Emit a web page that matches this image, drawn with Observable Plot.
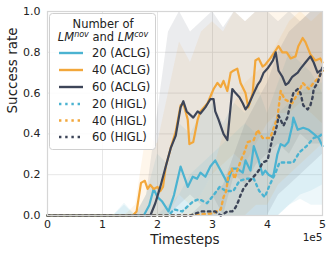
<!DOCTYPE html>
<html>
<head>
<meta charset="utf-8">
<script src="https://cdn.jsdelivr.net/npm/d3@7"></script>
<script src="https://cdn.jsdelivr.net/npm/@observablehq/plot@0.6"></script>
<style>
  body { margin: 0; background: #fff; }
  #chart { position: relative; width: 332px; height: 255px; }
  svg { font-family: "DejaVu Sans", sans-serif; }
</style>
</head>
<body>
<div id="chart"></div>
<script>
// ---- data (x in units of 1e5 timesteps) ----
const xTicks = [0, 1, 2, 3, 4, 5];
const yTicks = [0, 0.2, 0.4, 0.6, 0.8, 1.0];
const seriesNames = ["20 (ACLG)", "40 (ACLG)", "60 (ACLG)", "20 (HIGL)", "40 (HIGL)", "60 (HIGL)"];
const seriesColors = ["#4bb3d1", "#f2a73b", "#3d4558", "#4bb3d1", "#f2a73b", "#3d4558"];

const aclg20T = [0, 1.75, 1.85, 1.93, 2.0, 2.08, 2.2, 2.3, 2.42, 2.5, 2.55, 2.64, 2.72, 2.78, 2.87, 2.96, 3.05, 3.15, 3.27, 3.36, 3.45, 3.55, 3.6, 3.69, 3.75, 3.84, 3.91, 3.96, 4.02, 4.08, 4.11, 4.18, 4.24, 4.31, 4.38, 4.45, 4.47, 4.55, 4.65, 4.75, 4.84, 4.93, 5.0];
const aclg20V = [0, 0, 0.05, 0.13, 0.09, 0.07, 0.02, 0.1, 0.24, 0.18, 0.14, 0.19, 0.18, 0.21, 0.19, 0.24, 0.27, 0.22, 0.16, 0.23, 0.23, 0.21, 0.27, 0.22, 0.34, 0.27, 0.2, 0.22, 0.2, 0.19, 0.2, 0.3, 0.35, 0.34, 0.36, 0.44, 0.48, 0.42, 0.43, 0.42, 0.4, 0.38, 0.34];

const aclg40T = [0, 1.55, 1.62, 1.7, 1.77, 1.82, 1.87, 1.93, 2.0, 2.05, 2.1, 2.15, 2.24, 2.33, 2.42, 2.47, 2.55, 2.58, 2.65, 2.73, 2.78, 2.91, 3.02, 3.09, 3.15, 3.2, 3.27, 3.33, 3.38, 3.45, 3.51, 3.6, 3.65, 3.73, 3.78, 3.84, 3.91, 3.96, 4.05, 4.15, 4.2, 4.27, 4.35, 4.42, 4.51, 4.56, 4.64, 4.69, 4.78, 4.87, 4.96, 5.0];
const aclg40V = [0, 0, 0.02, 0.16, 0.17, 0.13, 0.15, 0.13, 0.14, 0.12, 0.14, 0.24, 0.33, 0.41, 0.54, 0.55, 0.47, 0.35, 0.36, 0.47, 0.51, 0.55, 0.62, 0.65, 0.63, 0.66, 0.61, 0.7, 0.71, 0.72, 0.65, 0.6, 0.53, 0.6, 0.76, 0.77, 0.73, 0.74, 0.77, 0.81, 0.83, 0.8, 0.8, 0.77, 0.78, 0.83, 0.87, 0.85, 0.79, 0.76, 0.77, 0.75];

const aclg60T = [0, 1.87, 1.96, 2.05, 2.15, 2.24, 2.33, 2.42, 2.47, 2.53, 2.65, 2.73, 2.78, 2.87, 2.96, 3.02, 3.05, 3.11, 3.2, 3.27, 3.36, 3.42, 3.49, 3.55, 3.6, 3.65, 3.75, 3.82, 3.87, 3.93, 4.0, 4.05, 4.1, 4.15, 4.2, 4.27, 4.33, 4.38, 4.45, 4.55, 4.6, 4.69, 4.78, 4.84, 4.91, 4.96, 5.0];
const aclg60V = [0, 0, 0.06, 0.14, 0.24, 0.33, 0.39, 0.53, 0.56, 0.51, 0.48, 0.51, 0.5, 0.53, 0.57, 0.57, 0.51, 0.47, 0.4, 0.37, 0.62, 0.6, 0.58, 0.55, 0.52, 0.54, 0.6, 0.64, 0.66, 0.7, 0.72, 0.74, 0.76, 0.8, 0.71, 0.68, 0.64, 0.65, 0.68, 0.7, 0.72, 0.75, 0.78, 0.75, 0.7, 0.71, 0.71];

const higl20T = [0, 2.2, 2.3, 2.45, 2.65, 2.76, 2.9, 3.02, 3.13, 3.25, 3.38, 3.49, 3.62, 3.75, 3.85, 3.95, 4.04, 4.13, 4.22, 4.35, 4.47, 4.58, 4.71, 4.84, 4.95, 5.0];
const higl20V = [0, 0, 0.03, 0.02, 0.07, 0.08, 0.06, 0.1, 0.14, 0.12, 0.12, 0.17, 0.18, 0.18, 0.12, 0.09, 0.15, 0.2, 0.26, 0.26, 0.26, 0.31, 0.34, 0.38, 0.39, 0.4];

const higl40T = [0, 2.5, 3.0, 3.15, 3.2, 3.25, 3.29, 3.35, 3.4, 3.45, 3.53, 3.58, 3.64, 3.75, 3.82, 3.91, 4.05, 4.18, 4.24, 4.31, 4.38, 4.45, 4.51, 4.56, 4.64, 4.75, 4.84, 4.91, 4.96, 5.0];
const higl40V = [0, 0, 0.01, 0.03, 0.09, 0.12, 0.2, 0.23, 0.18, 0.22, 0.28, 0.31, 0.36, 0.37, 0.42, 0.38, 0.38, 0.48, 0.61, 0.57, 0.56, 0.55, 0.58, 0.6, 0.65, 0.62, 0.65, 0.67, 0.69, 0.71];

const higl60T = [0, 2.6, 2.8, 3.05, 3.15, 3.27, 3.36, 3.42, 3.47, 3.51, 3.56, 3.64, 3.78, 3.84, 3.91, 4.0, 4.05, 4.09, 4.13, 4.18, 4.2, 4.29, 4.36, 4.42, 4.47, 4.55, 4.6, 4.65, 4.73, 4.78, 4.82, 4.84, 4.91, 4.96, 5.0];
const higl60V = [0, 0, 0.02, 0.02, 0.0, 0.02, 0.02, 0.04, 0.07, 0.1, 0.13, 0.16, 0.2, 0.22, 0.26, 0.27, 0.33, 0.38, 0.4, 0.45, 0.49, 0.44, 0.48, 0.55, 0.6, 0.62, 0.6, 0.54, 0.52, 0.54, 0.58, 0.62, 0.65, 0.69, 0.73];

// shaded spread bands
const bandT = [0, 1.2, 1.4, 1.6, 1.8, 2.0, 2.2, 2.4, 2.6, 2.8, 3.0, 3.2, 3.4, 3.6, 3.8, 4.0, 4.2, 4.4, 4.6, 4.8, 5.0];
const aclg20Hi = [0, 0, 0.06, 0, 0.1, 0.3, 0.25, 0.45, 0.4, 0.5, 0.55, 0.45, 0.55, 0.5, 0.65, 0.5, 0.65, 0.8, 0.75, 0.7, 0.6];
const aclg20Lo = [0, 0, 0, 0, 0, 0, 0, 0, 0, 0, 0, 0, 0, 0, 0, 0, 0, 0.05, 0.08, 0.05, 0.05];
const aclg40Hi = [0, 0, 0, 0.05, 0.4, 0.35, 0.6, 0.85, 0.75, 0.9, 0.95, 0.9, 1, 0.95, 1, 1, 1, 1, 1, 1, 1];
const aclg40Lo = [0, 0, 0, 0, 0, 0, 0, 0.1, 0.05, 0.1, 0.2, 0.25, 0.3, 0.25, 0.35, 0.45, 0.5, 0.5, 0.55, 0.5, 0.45];
const aclg60Hi = [0, 0, 0, 0, 0.1, 0.5, 0.9, 1, 0.9, 0.95, 1, 0.92, 1, 0.95, 1, 1, 0.95, 1, 0.95, 1, 1];
const aclg60Lo = [0, 0, 0, 0, 0, 0, 0, 0.05, 0.1, 0.05, 0.1, 0, 0.2, 0.15, 0.25, 0.3, 0.35, 0.3, 0.4, 0.35, 0.35];
const higl20Hi = [0, 0, 0.05, 0, 0, 0, 0.05, 0.1, 0.2, 0.25, 0.3, 0.35, 0.4, 0.45, 0.4, 0.4, 0.5, 0.55, 0.6, 0.65, 0.65];
const higl20Lo = [0, 0, 0, 0, 0, 0, 0, 0, 0, 0, 0, 0, 0, 0, 0, 0, 0, 0.05, 0.1, 0.12, 0.15];
const higl40Hi = [0, 0, 0, 0, 0, 0, 0, 0, 0.05, 0.1, 0.2, 0.4, 0.55, 0.65, 0.7, 0.75, 0.85, 0.95, 1, 0.95, 1];
const higl40Lo = [0, 0, 0, 0, 0, 0, 0, 0, 0, 0, 0, 0, 0, 0, 0.05, 0.05, 0.15, 0.2, 0.25, 0.3, 0.35];
const higl60Hi = [0, 0, 0, 0, 0, 0, 0, 0, 0, 0.05, 0.1, 0.15, 0.3, 0.45, 0.55, 0.65, 0.8, 0.9, 0.95, 1, 1];
const higl60Lo = [0, 0, 0, 0, 0, 0, 0, 0, 0, 0, 0, 0, 0, 0, 0, 0, 0.1, 0.15, 0.2, 0.25, 0.3];

// ---- build tables ----
const lineT = [aclg20T, aclg40T, aclg60T, higl20T, higl40T, higl60T];
const lineV = [aclg20V, aclg40V, aclg60V, higl20V, higl40V, higl60V];
const bandHi = [aclg20Hi, aclg40Hi, aclg60Hi, higl20Hi, higl40Hi, higl60Hi];
const bandLo = [aclg20Lo, aclg40Lo, aclg60Lo, higl20Lo, higl40Lo, higl60Lo];

const lines = seriesNames.map((name, i) => lineT[i].map((t, j) => ({series: name, t, v: lineV[i][j]})));
const bands = seriesNames.map((name, i) => bandT.map((t, j) => ({series: name, t, lo: bandLo[i][j], hi: bandHi[i][j]})));

const bandMarks = bands.map((b, i) => Plot.areaY(b, {x: "t", y1: "lo", y2: "hi", fill: seriesColors[i], fillOpacity: 0.1}));
const lineMarks = lines.map((l, i) => i < 3
  ? Plot.line(l, {x: "t", y: "v", stroke: seriesColors[i], strokeWidth: 2.2})
  : Plot.line(l, {x: "t", y: "v", stroke: seriesColors[i], strokeWidth: 2.4, strokeDasharray: "2.4,3.8"}));

const chart = Plot.plot({
  width: 332, height: 255,
  marginLeft: 47, marginRight: 10, marginTop: 11, marginBottom: 40,
  style: {fontFamily: "DejaVu Sans, sans-serif", fontSize: "11px", color: "#222", background: "#fff"},
  x: {domain: [0, 5], ticks: xTicks, tickFormat: d => String(d), label: null},
  y: {domain: [0, 1], ticks: yTicks, tickFormat: d => d.toFixed(1), label: null},
  marks: [
    Plot.gridX(xTicks, {stroke: "#e4e4e4", strokeOpacity: 1, strokeWidth: 0.9}),
    Plot.gridY(yTicks, {stroke: "#e4e4e4", strokeOpacity: 1, strokeWidth: 0.9}),
    ...bandMarks,
    ...lineMarks,
    Plot.frame({stroke: "#d6d6d6", strokeWidth: 1.2}),
    Plot.axisX(xTicks, {tickSize: 0, tickPadding: 5, fontSize: 11, label: null, tickFormat: d => String(d)}),
    Plot.axisY(yTicks, {tickSize: 0, tickPadding: 7, fontSize: 11, label: null, tickFormat: d => d.toFixed(1)}),
    Plot.text(["Timesteps"], {frameAnchor: "bottom", dy: 28, fontSize: 13.5, fill: "#222"}),
    Plot.text(["1e5"], {frameAnchor: "bottom-right", dy: 25, dx: 0, textAnchor: "end", fontSize: 10.5, fill: "#222"}),
    Plot.text(["Success rate"], {frameAnchor: "left", dx: -35, rotate: -90, fontSize: 13.5, fill: "#222"})
  ]
});

document.getElementById("chart").appendChild(chart);

// ---- legend drawn inside the plot area ----
const svg = d3.select(chart);
const lg = svg.append("g").attr("font-family", "DejaVu Sans, sans-serif").attr("font-size", 11.5)
  .attr("fill", "#222").attr("text-anchor", "start");
lg.append("rect").attr("x", 49.5).attr("y", 13.5).attr("width", 106).attr("height", 136)
  .attr("rx", 3).attr("fill", "#fff").attr("fill-opacity", 0.85).attr("stroke", "#d0d0d0");
lg.append("text").attr("x", 103).attr("y", 28).attr("text-anchor", "middle").text("Number of");
const t2 = lg.append("text").attr("x", 103).attr("y", 41).attr("text-anchor", "middle");
t2.append("tspan").attr("font-style", "italic").text("LM");
t2.append("tspan").attr("font-size", 8).attr("dy", -4.5).attr("font-style", "italic").text("nov");
t2.append("tspan").attr("dy", 4.5).text(" and ");
t2.append("tspan").attr("font-style", "italic").text("LM");
t2.append("tspan").attr("font-size", 8).attr("dy", -4.5).attr("font-style", "italic").text("cov");
const rowY = [53, 70, 87, 104, 120.5, 137];
seriesNames.forEach((name, i) => {
  const y = rowY[i];
  lg.append("line").attr("x1", 59).attr("x2", 83).attr("y1", y).attr("y2", y)
    .attr("stroke", seriesColors[i]).attr("stroke-width", 2.4)
    .attr("stroke-dasharray", i < 3 ? null : "2.4,3.8");
  lg.append("text").attr("x", 92).attr("y", y).attr("dy", "0.36em").attr("text-anchor", "start").text(name);
});
</script>
</body>
</html>
